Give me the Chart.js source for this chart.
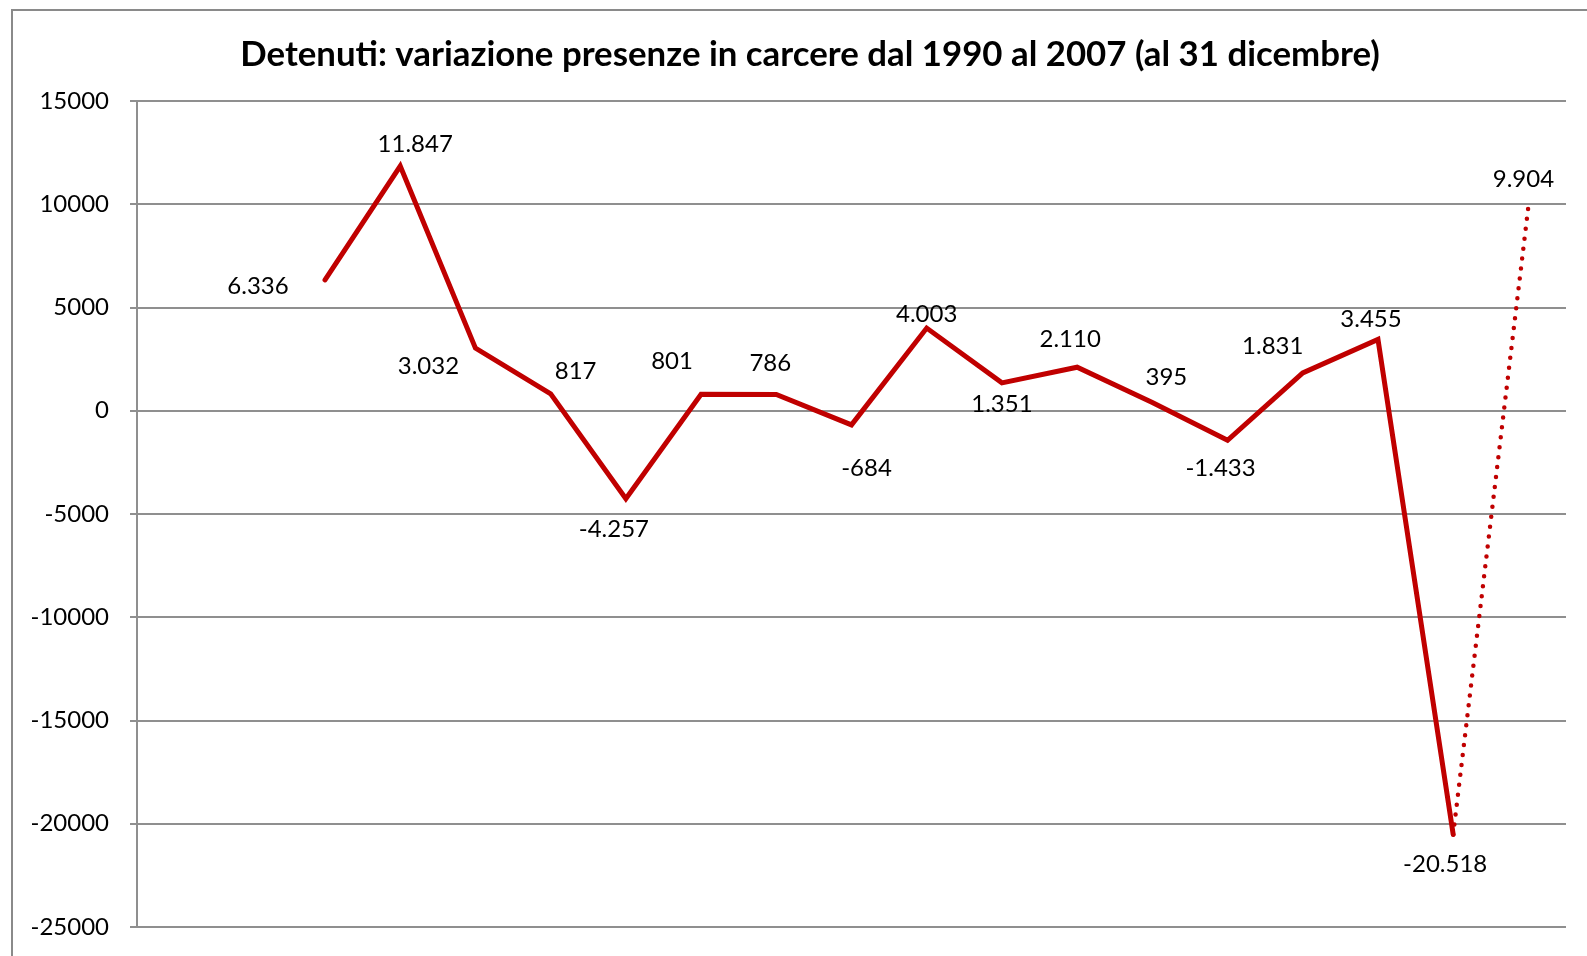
<!DOCTYPE html>
<html>
<head>
<meta charset="utf-8">
<script src="https://cdn.jsdelivr.net/npm/chart.js@4.4.1/dist/chart.umd.min.js"></script>
<style>
  body { margin: 0; background: #fff; }
  canvas { display: block; }
</style>
</head>
<body>
<canvas id="detenuti" width="1587" height="956"></canvas>
<script>
(function() {
  "use strict";

  // Categories (the first two slots are empty in the original sheet)
  var years = ['1989', '1990', '1991', '1992', '1993', '1994', '1995', '1996', '1997', '1998',
               '1999', '2000', '2001', '2002', '2003', '2004', '2005', '2006', '2007'];
  // Variazione presenze (detenuti al 31 dicembre)
  var variazione = [null, null, 6336, 11847, 3032, 817, -4257, 801, 786, -684,
                    4003, 1351, 2110, 395, -1433, 1831, 3455, -20518, 9904];
  var yTicks = [-25000, -20000, -15000, -10000, -5000, 0, 5000, 10000, 15000];

  // label placement relative to the point (style only)
  var labelShift = [null, null, [-67, 6], [15, -22], [-47, 18], [25, -23], [-12, 31], [-29, -33],
                    [-6, -31], [15, 43], [0, -14], [0, 21], [-7, -28], [14, -25], [-7, 28],
                    [-30, -27], [-7, -20], [-8, 30], [-5, -27]];

  var RED = '#C00000';
  var GRID = '#8f8f8f';
  var FONT = 'Lato, "Open Sans", sans-serif';

  function formatIt(v) {
    var s = String(Math.abs(v)).replace(/\B(?=(\d{3})+(?!\d))/g, '.');
    return (v < 0 ? '-' : '') + s;
  }

  var lastIdx = variazione.length - 1;

  // outer frame + title
  var frameTitle = {
    id: 'frameTitle',
    afterDraw: function(chart) {
      var c = chart.ctx;
      c.save();
      c.strokeStyle = '#8a8a8a';
      c.lineWidth = 2;
      c.beginPath();
      c.moveTo(12, chart.height + 2);
      c.lineTo(12, 10);
      c.lineTo(chart.width + 2, 10);
      c.stroke();
      c.fillStyle = '#000';
      c.font = 'bold 34.8px ' + FONT;
      c.textAlign = 'center';
      c.textBaseline = 'middle';
      c.fillText('Detenuti: variazione presenze in carcere dal 1990 al 2007 (al 31 dicembre)', 810, 55);
      c.restore();
    }
  };

  // value labels next to each point
  var valueLabels = {
    id: 'valueLabels',
    afterDatasetsDraw: function(chart) {
      var c = chart.ctx;
      var meta = chart.getDatasetMeta(0);
      c.save();
      c.fillStyle = '#000';
      c.font = '24px ' + FONT;
      c.textAlign = 'center';
      c.textBaseline = 'middle';
      meta.data.forEach(function(pt, i) {
        var v = variazione[i];
        if (v === null) return;
        var sh = labelShift[i] || [0, -20];
        c.fillText(formatIt(v), pt.x + sh[0], pt.y + sh[1]);
      });
      c.restore();
    }
  };

  var ctx = document.getElementById('detenuti').getContext('2d');
  var detenutiChart = new Chart(ctx, {
    type: 'line',
    data: {
      labels: years,
      datasets: [{
        label: 'Variazione presenze',
        data: variazione,
        borderColor: RED,
        backgroundColor: RED,
        borderWidth: 5,
        borderJoinStyle: 'miter',
        borderCapStyle: 'round',
        pointRadius: 0,
        tension: 0,
        spanGaps: false,
        segment: {
          borderDash: function(sc) { return sc.p1DataIndex === lastIdx ? [0, 10] : undefined; },
          borderWidth: function(sc) { return sc.p1DataIndex === lastIdx ? 4.5 : undefined; }
        }
      }]
    },
    options: {
      responsive: false,
      animation: false,
      devicePixelRatio: 1,
      layout: { padding: { left: 0, top: 101, right: 21, bottom: 29 } },
      plugins: {
        legend: { display: false },
        title: { display: false },
        tooltip: { enabled: false }
      },
      scales: {
        x: {
          type: 'category',
          offset: true,
          display: false
        },
        y: {
          min: -25000,
          max: 15000,
          afterFit: function(scale) {
            scale.width = 137;
            // labels fit inside the layout padding, no extra room needed
            scale.paddingTop = 0;
            scale.paddingBottom = 0;
          },
          afterBuildTicks: function(scale) {
            scale.ticks = yTicks.map(function(v) { return { value: v }; });
          },
          border: { display: true, color: GRID, width: 2 },
          grid: {
            color: GRID,
            lineWidth: 2,
            drawTicks: true,
            tickLength: 7
          },
          ticks: {
            color: '#000',
            padding: 21,
            font: { family: FONT, size: 24 },
            callback: function(value) { return String(value); }
          }
        }
      }
    },
    plugins: [frameTitle, valueLabels]
  });
})();
</script>
</body>
</html>
